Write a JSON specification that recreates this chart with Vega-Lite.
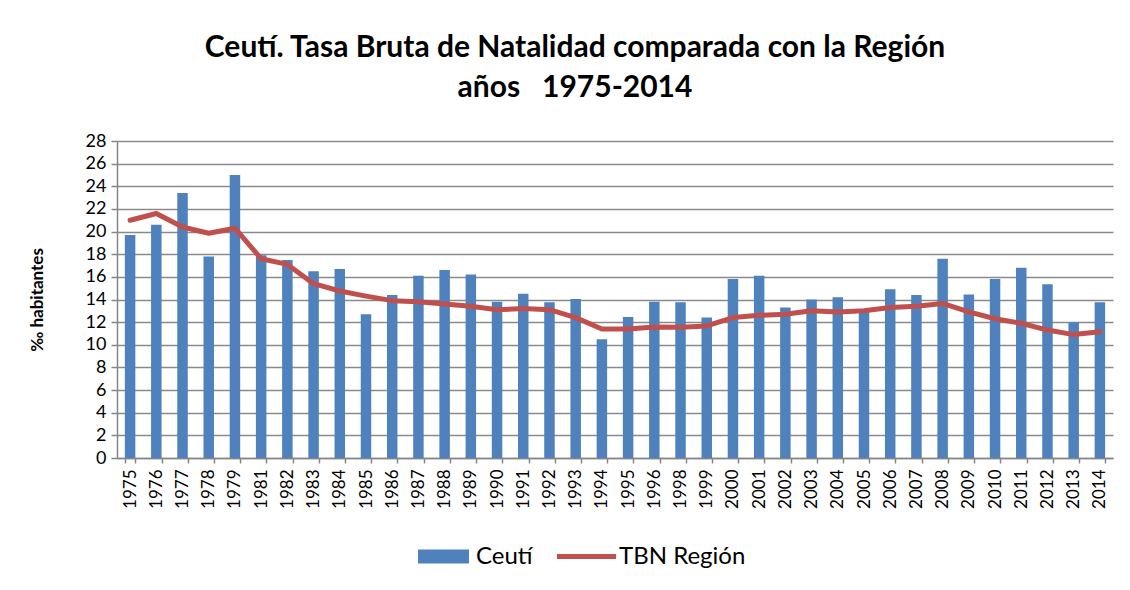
{
  "$schema": "https://vega.github.io/schema/vega-lite/v6.json",
  "autosize": "none",
  "width": 996,
  "height": 317,
  "padding": {"left": 117, "top": 141, "right": 17, "bottom": 132},
  "background": "white",
  "title": {
    "text": ["Ceutí. Tasa Bruta de Natalidad comparada con la Región", "años \u00a0 1975-2014"],
    "font": "Lato",
    "fontSize": 30,
    "fontWeight": "bold",
    "color": "#000000",
    "anchor": "middle",
    "dx": -40,
    "offset": 29,
    "lineHeight": 40
  },
  "data": {
    "values": [
      {"year": "1975", "ceuti": 19.7, "region": 21.0},
      {"year": "1976", "ceuti": 20.6, "region": 21.6},
      {"year": "1977", "ceuti": 23.4, "region": 20.4},
      {"year": "1978", "ceuti": 17.8, "region": 19.85},
      {"year": "1979", "ceuti": 25.0, "region": 20.3},
      {"year": "1981", "ceuti": 17.9, "region": 17.6},
      {"year": "1982", "ceuti": 17.5, "region": 17.1},
      {"year": "1983", "ceuti": 16.5, "region": 15.4},
      {"year": "1984", "ceuti": 16.7, "region": 14.75},
      {"year": "1985", "ceuti": 12.7, "region": 14.3},
      {"year": "1986", "ceuti": 14.4, "region": 13.9},
      {"year": "1987", "ceuti": 16.1, "region": 13.8},
      {"year": "1988", "ceuti": 16.6, "region": 13.6},
      {"year": "1989", "ceuti": 16.2, "region": 13.4},
      {"year": "1990", "ceuti": 13.8, "region": 13.1},
      {"year": "1991", "ceuti": 14.5, "region": 13.2},
      {"year": "1992", "ceuti": 13.75, "region": 13.1},
      {"year": "1993", "ceuti": 14.05, "region": 12.4},
      {"year": "1994", "ceuti": 10.5, "region": 11.4},
      {"year": "1995", "ceuti": 12.45, "region": 11.4},
      {"year": "1996", "ceuti": 13.8, "region": 11.57},
      {"year": "1998", "ceuti": 13.75, "region": 11.55},
      {"year": "1999", "ceuti": 12.4, "region": 11.66},
      {"year": "2000", "ceuti": 15.8, "region": 12.4},
      {"year": "2001", "ceuti": 16.1, "region": 12.6},
      {"year": "2002", "ceuti": 13.3, "region": 12.7},
      {"year": "2003", "ceuti": 14.0, "region": 13.0},
      {"year": "2004", "ceuti": 14.2, "region": 12.9},
      {"year": "2005", "ceuti": 12.95, "region": 13.0},
      {"year": "2006", "ceuti": 14.9, "region": 13.3},
      {"year": "2007", "ceuti": 14.4, "region": 13.4},
      {"year": "2008", "ceuti": 17.6, "region": 13.65},
      {"year": "2009", "ceuti": 14.45, "region": 12.9},
      {"year": "2010", "ceuti": 15.8, "region": 12.3},
      {"year": "2011", "ceuti": 16.8, "region": 11.9},
      {"year": "2012", "ceuti": 15.35, "region": 11.3},
      {"year": "2013", "ceuti": 12.0, "region": 10.9},
      {"year": "2014", "ceuti": 13.75, "region": 11.15}
    ]
  },
  "encoding": {
    "x": {
      "field": "year",
      "type": "nominal",
      "sort": null,
      "scale": {"paddingInner": 0.6, "paddingOuter": 0.3},
      "axis": {
        "title": null,
        "labelAngle": -90,
        "labelAlign": "right",
        "labelBaseline": "middle",
        "labelFont": "Lato",
        "labelFontSize": 17,
        "labelColor": "#000000",
        "labelPadding": 6,
        "tickBand": "extent",
        "tickSize": 5,
        "tickColor": "#868686",
        "tickWidth": 1.5,
        "domainColor": "#868686",
        "domainWidth": 1.5,
        "grid": false
      }
    }
  },
  "layer": [
    {
      "mark": {"type": "bar"},
      "encoding": {
        "y": {
          "field": "ceuti",
          "type": "quantitative",
          "scale": {"domain": [0, 28], "nice": false},
          "axis": {
            "title": "‰  habitantes",
            "values": [0, 2, 4, 6, 8, 10, 12, 14, 16, 18, 20, 22, 24, 26, 28]
          }
        },
        "fill": {
          "datum": "Ceutí",
          "type": "nominal",
          "scale": {"range": ["#4F81BD"]},
          "legend": {
            "title": null,
            "orient": "none",
            "legendX": 301,
            "legendY": 390,
            "symbolType": "M-1,-0.275H1V0.275H-1Z",
            "symbolSize": 2601,
            "symbolStrokeWidth": 0,
            "labelFont": "Lato",
            "labelFontSize": 24,
            "labelColor": "#000000",
            "labelOffset": 7
          }
        }
      }
    },
    {
      "mark": {"type": "line", "strokeWidth": 5, "strokeCap": "round", "strokeJoin": "round"},
      "encoding": {
        "y": {
          "field": "region",
          "type": "quantitative",
          "axis": {
            "title": "‰  habitantes",
            "values": [0, 2, 4, 6, 8, 10, 12, 14, 16, 18, 20, 22, 24, 26, 28]
          }
        },
        "stroke": {
          "datum": "TBN Región",
          "type": "nominal",
          "scale": {"range": ["#C0504D"]},
          "legend": {
            "title": null,
            "orient": "none",
            "legendX": 437,
            "legendY": 383,
            "symbolType": "stroke",
            "symbolSize": 3500,
            "symbolStrokeWidth": 5,
            "labelFont": "Lato",
            "labelFontSize": 24,
            "labelColor": "#000000",
            "labelOffset": 0
          }
        }
      }
    }
  ],
  "config": {
    "view": {"stroke": null},
    "legend": {"padding": 0},
    "axisY": {
      "titleFont": "Lato",
      "titleFontSize": 17,
      "titleFontWeight": "bold",
      "titleColor": "#000000",
      "titlePadding": 39,
      "labelFont": "Lato",
      "labelFontSize": 18,
      "labelColor": "#000000",
      "labelPadding": 5,
      "labelOverlap": false,
      "tickSize": 6,
      "tickColor": "#868686",
      "tickWidth": 1.5,
      "domainColor": "#868686",
      "domainWidth": 1.5,
      "grid": true,
      "gridColor": "#8a8a8a",
      "gridWidth": 1.5
    }
  }
}
